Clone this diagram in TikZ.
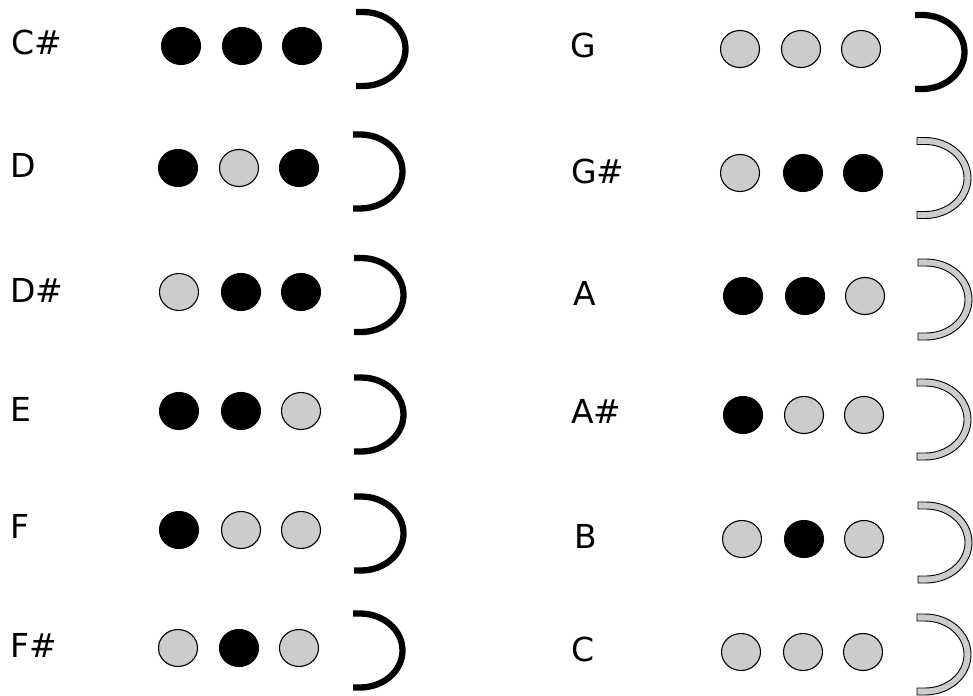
\documentclass[tikz,border=0pt]{standalone}
\usepackage{fontspec}
\setmainfont{DejaVu Sans}
\usetikzlibrary{shapes.geometric}
\definecolor{holegray}{HTML}{CCCCCC}
\tikzset{
  hole/.style={ellipse, draw=black, line width=1.1pt, minimum width=39pt, minimum height=37pt, inner sep=0pt},
  closed/.style={hole, fill=black},
  open/.style={hole, fill=holegray},
  notelabel/.style={anchor=base west, inner sep=0pt, font=\fontsize{33}{40}\selectfont},
  bellblack/.style={draw=black, line width=6.3pt},
  bellgray/.style={draw=black, fill=holegray, line width=0.9pt}
}
% black bell: #1 start x, #2 centre y
\newcommand\bellB[2]{%
  \draw[bellblack] (#1,#2-37) -- (#1+7,#2-37) arc[start angle=-90,end angle=90,x radius=42.5,y radius=37] -- (#1,#2+37);}
% grey bell (outlined band)
\newcommand\bellG[2]{%
  \draw[bellgray] (#1,#2-40.5) -- (#1+8,#2-40.5) arc[start angle=-90,end angle=90,x radius=46,y radius=40.5]
    -- (#1,#2+40.5) -- (#1,#2+33.5) -- (#1+8,#2+33.5) arc[start angle=90,end angle=-90,x radius=39,y radius=33.5]
    -- (#1,#2-33.5) -- cycle;}
\begin{document}
\begin{tikzpicture}[x=1pt,y=-1pt]
\useasboundingbox (0,0) rectangle (973,695);
% ---------- left column ----------
\node[notelabel] (lCs) at (11,55) {C\#};
\node[closed] (Cs1) at (181,46) {};
\node[closed] (Cs2) at (242,46) {};
\node[closed] (Cs3) at (302,46) {};
\bellB{356}{49}

\node[notelabel] (lD) at (10,177) {D};
\node[closed] (D1) at (178,168) {};
\node[open]   (D2) at (239,168) {};
\node[closed] (D3) at (299,168) {};
\bellB{353}{171.5}

\node[notelabel] (lDs) at (10,302) {D\#};
\node[open]   (Ds1) at (179,292) {};
\node[closed] (Ds2) at (241,292) {};
\node[closed] (Ds3) at (301,292) {};
\bellB{354}{295}

\node[notelabel] (lE) at (10,421) {E};
\node[closed] (E1) at (179,411) {};
\node[closed] (E2) at (241,411) {};
\node[open]   (E3) at (301,411) {};
\bellB{354}{414.5}

\node[notelabel] (lF) at (10,538) {F};
\node[closed] (F1) at (179,530) {};
\node[open]   (F2) at (241,530) {};
\node[open]   (F3) at (301,530) {};
\bellB{354}{533.5}

\node[notelabel] (lFs) at (10,657) {F\#};
\node[open]   (Fs1) at (178,648) {};
\node[closed] (Fs2) at (239,648) {};
\node[open]   (Fs3) at (299,648) {};
\bellB{353}{650.5}

% ---------- right column ----------
\node[notelabel] (lG) at (570,58) {G};
\node[open] (G1) at (740,49) {};
\node[open] (G2) at (801,49) {};
\node[open] (G3) at (861,49) {};
\bellB{915}{52}

\node[notelabel] (lGs) at (571,183) {G\#};
\node[open]   (Gs1) at (740,173) {};
\node[closed] (Gs2) at (803,173) {};
\node[closed] (Gs3) at (863,173) {};
\bellG{917}{178}

\node[notelabel] (lA) at (573,305) {A};
\node[closed] (A1) at (743,296) {};
\node[closed] (A2) at (805,296) {};
\node[open]   (A3) at (865,296) {};
\bellG{918}{299.5}

\node[notelabel] (lAs) at (571,423) {A\#};
\node[closed] (As1) at (743,415) {};
\node[open]   (As2) at (804,415) {};
\node[open]   (As3) at (864,415) {};
\bellG{917}{419.5}

\node[notelabel] (lB) at (574,548) {B};
\node[open]   (B1) at (742,539) {};
\node[closed] (B2) at (804,539) {};
\node[open]   (B3) at (864,539) {};
\bellG{918}{542.5}

\node[notelabel] (lC) at (571,661) {C};
\node[open] (C1) at (741,652) {};
\node[open] (C2) at (803,652) {};
\node[open] (C3) at (863,652) {};
\bellG{917}{654.5}
\end{tikzpicture}
\end{document}
